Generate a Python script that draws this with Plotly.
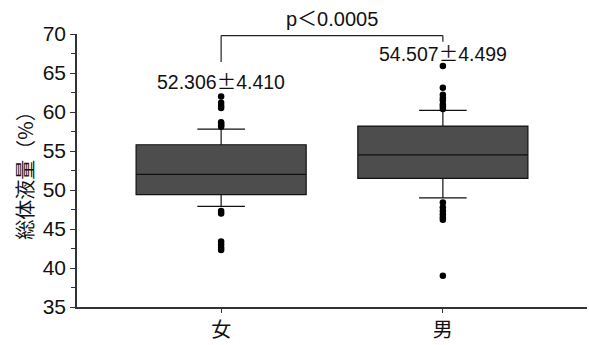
import plotly.graph_objects as go

categories = ["女", "男"]
q1 = [49.4, 51.5]
median = [52.0, 54.5]
q3 = [55.8, 58.2]
lower_fence = [47.9, 49.0]
upper_fence = [57.8, 60.2]
outliers = [
    [62.0, 61.2, 60.8, 60.5, 58.7, 58.5, 58.3, 58.1, 47.3, 47.0, 43.4, 43.0, 42.6, 42.3],
    [65.9, 63.1, 62.2, 61.8, 61.5, 61.0, 60.7, 60.4, 48.4, 47.8, 47.3, 46.9, 46.5, 46.2, 39.0],
]
mean_sd_labels = ["52.306±4.410", "54.507±4.499"]
label_y = [64.0, 67.6]
p_label = "p＜0.0005"
bracket_y = [66.4, 69.8, 69.0]

LAT = "Liberation Sans, Arial, Noto Sans CJK JP"
CJK = "Noto Sans CJK JP"

fig = go.Figure()
for i, c in enumerate(categories):
    fig.add_trace(go.Box(
        x=[c], q1=[q1[i]], median=[median[i]], q3=[q3[i]],
        lowerfence=[lower_fence[i]], upperfence=[upper_fence[i]],
        fillcolor="#4d4d4d", line=dict(color="#111111", width=1.2),
        width=0.767, whiskerwidth=0.28, boxpoints=False, showlegend=False,
        hoverinfo="skip",
    ))
    fig.add_trace(go.Scatter(
        x=[c] * len(outliers[i]), y=outliers[i], mode="markers",
        marker=dict(color="black", size=6.5), showlegend=False, hoverinfo="skip",
    ))

for i, c in enumerate(categories):
    txt = mean_sd_labels[i].replace("±", '<span style="font-family:Noto Sans CJK JP">±</span>')
    fig.add_annotation(x=c, y=label_y[i], text=txt, showarrow=False,
                       font=dict(family=LAT, size=19.5, color="#111111"),
                       xanchor="center", yanchor="middle")

# significance bracket
fig.add_shape(type="line", x0=categories[0], x1=categories[0], y0=bracket_y[0], y1=bracket_y[1],
              line=dict(color="#222222", width=1.2))
fig.add_shape(type="line", x0=categories[0], x1=categories[1], y0=bracket_y[1], y1=bracket_y[1],
              line=dict(color="#222222", width=1.2))
fig.add_shape(type="line", x0=categories[1], x1=categories[1], y0=bracket_y[2], y1=bracket_y[1],
              line=dict(color="#222222", width=1.2))
fig.add_annotation(x=0.5, xref="x", y=1.0, yref="paper", yshift=15, text=p_label, showarrow=False,
                   font=dict(family=LAT + ", " + CJK, size=20, color="#111111"),
                   xanchor="center", yanchor="middle")

fig.update_layout(
    width=589, height=345,
    margin=dict(l=77, r=2, t=34, b=29),
    paper_bgcolor="white", plot_bgcolor="white",
    font=dict(family=LAT, color="#111111"),
)
fig.update_xaxes(
    type="category", categoryorder="array", categoryarray=categories,
    range=[-0.65, 1.65], showline=True, linecolor="#333333", linewidth=1.5,
    ticks="outside", ticklen=4, tickcolor="#333333", showgrid=False, zeroline=False,
    tickfont=dict(family=CJK, size=20, color="#111111"),
)
fig.update_yaxes(
    range=[35, 70], tickvals=[35, 40, 45, 50, 55, 60, 65, 70],
    showline=True, linecolor="#333333", linewidth=1.5,
    ticks="outside", ticklen=5, tickcolor="#333333", showgrid=False, zeroline=False,
    minor=dict(ticks="outside", ticklen=4, dtick=2.5, tickcolor="#333333"),
    tickfont=dict(family=LAT, size=21, color="#111111"),
    title=dict(text="総体液量（%）", font=dict(family=CJK, size=20, color="#111111"), standoff=4),
)

fig.write_html("out.html", config={"displayModeBar": False},
               post_script="document.body.style.margin='0';document.body.style.overflow='hidden';")
